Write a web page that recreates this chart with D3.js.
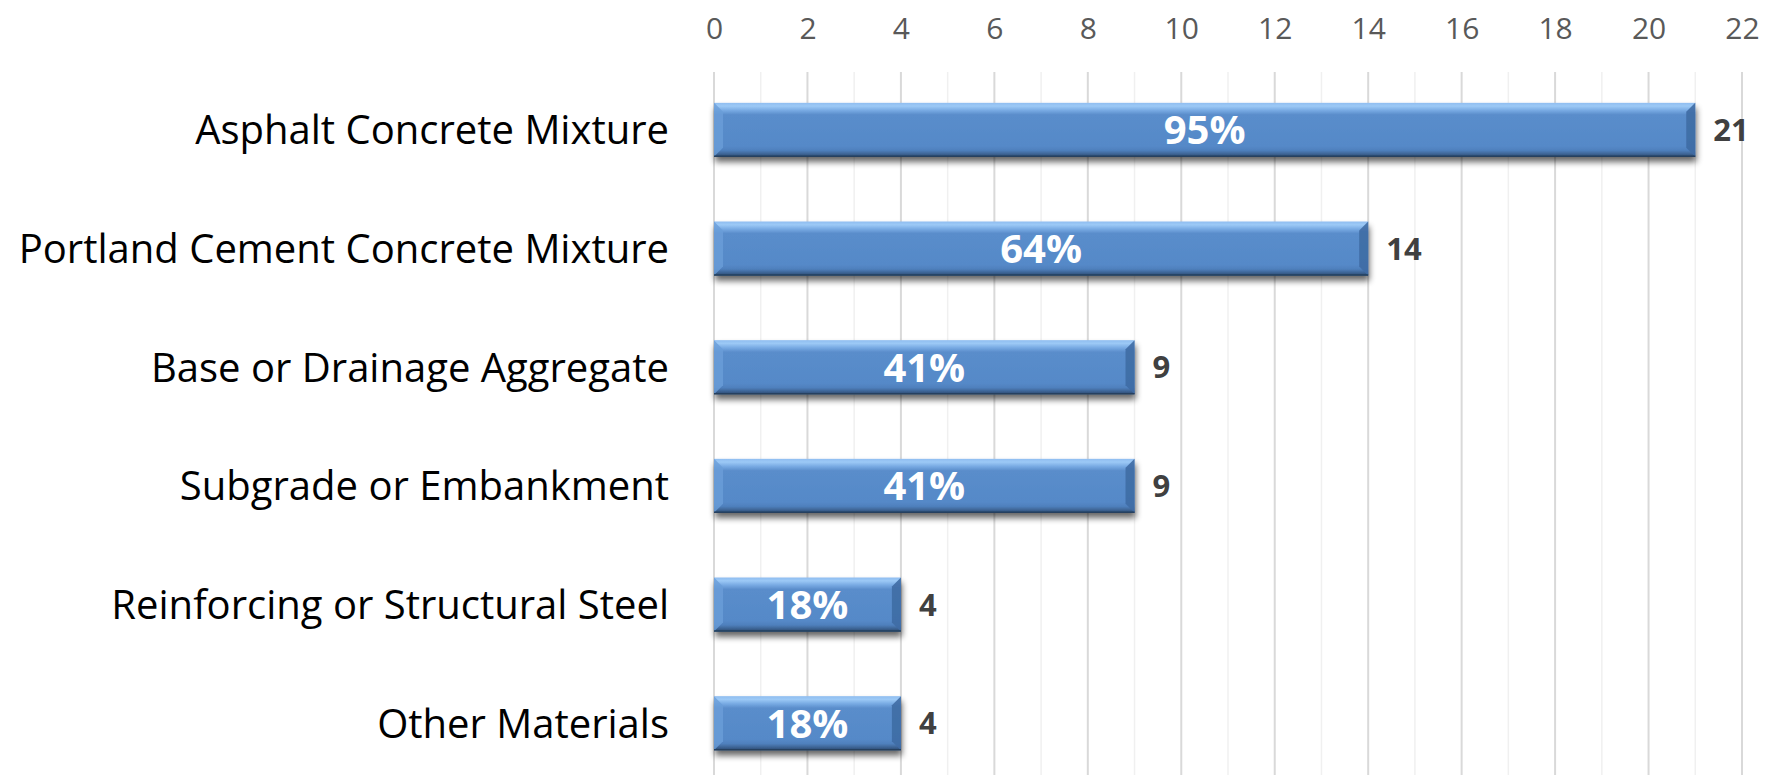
<!DOCTYPE html>
<html>
<head>
<meta charset="utf-8">
<script src="https://cdn.jsdelivr.net/npm/d3@7"></script>
<style>
  html, body { margin: 0; padding: 0; background: #ffffff; }
  svg { display: block; }
</style>
</head>
<body>
<svg id="chart" width="1772" height="775"></svg>
<script>
// Materials reported, count of agencies and share of the 22 respondents
const categories = [
  "Asphalt Concrete Mixture",
  "Portland Cement Concrete Mixture",
  "Base or Drainage Aggregate",
  "Subgrade or Embankment",
  "Reinforcing or Structural Steel",
  "Other Materials"
];
const counts = [21, 14, 9, 9, 4, 4];
const percents = ["95%", "64%", "41%", "41%", "18%", "18%"];
const tickValues = [0, 2, 4, 6, 8, 10, 12, 14, 16, 18, 20, 22];

const svg = d3.select("#chart");
const FONT = "'Open Sans', 'Noto Sans', sans-serif";

const x = d3.scaleLinear().domain([0, 22]).range([714, 1742]);
const y = d3.scaleBand()
  .domain(categories)
  .range([70.5, 782.5])
  .paddingInner(0.545)
  .paddingOuter(0.2725);

const defs = svg.append("defs");

// vertical shading of the bar face
const grad = defs.append("linearGradient")
  .attr("id", "barFace").attr("x1", 0).attr("y1", 0).attr("x2", 0).attr("y2", 1);
[
  [0.00, "#8fbdf0"],
  [0.06, "#9cc9f6"],
  [0.14, "#78aae3"],
  [0.22, "#5a8dcb"],
  [0.80, "#5589c8"],
  [0.88, "#4f80bd"],
  [0.94, "#3f6799"],
  [1.00, "#2c4a70"]
].forEach(([o, c]) => grad.append("stop").attr("offset", o).attr("stop-color", c));

const shadow = defs.append("filter")
  .attr("id", "barShadow").attr("x", "-5%").attr("y", "-30%").attr("width", "110%").attr("height", "170%");
shadow.append("feGaussianBlur").attr("in", "SourceAlpha").attr("stdDeviation", 3).attr("result", "b");
shadow.append("feOffset").attr("in", "b").attr("dx", 1).attr("dy", 5).attr("result", "o");
shadow.append("feComponentTransfer").attr("in", "o").attr("result", "s")
  .append("feFuncA").attr("type", "linear").attr("slope", 0.6);
const merge = shadow.append("feMerge");
merge.append("feMergeNode").attr("in", "s");
merge.append("feMergeNode").attr("in", "SourceGraphic");

// vertical gridlines: even values stronger, odd values faint
const grid = svg.append("g");
grid.selectAll("line")
  .data(d3.range(0, 23))
  .join("line")
  .attr("x1", d => x(d)).attr("x2", d => x(d))
  .attr("y1", 72).attr("y2", 775)
  .attr("stroke", d => d % 2 === 0 ? "#d9d9d9" : "#f0f0f0")
  .attr("stroke-width", d => d % 2 === 0 ? 2 : 1.5);

// top axis labels
const axis = d3.axisTop(x).tickValues(tickValues).tickSize(0).tickPadding(0);
const axisG = svg.append("g").attr("transform", "translate(0,39)").call(axis);
axisG.select(".domain").remove();
axisG.selectAll("text")
  .attr("font-family", FONT)
  .attr("font-size", 30)
  .attr("fill", "#595959")
  .attr("dy", 0);

// category labels
svg.append("g").selectAll("text")
  .data(categories)
  .join("text")
  .attr("x", 669)
  .attr("y", d => y(d) + y.bandwidth() / 2)
  .attr("dy", "0.36em")
  .attr("text-anchor", "end")
  .attr("font-family", FONT)
  .attr("font-size", 40)
  .attr("fill", "#000000")
  .text(d => d);

// bevelled bars
const rows = categories.map((c, i) => ({ c, v: counts[i], p: percents[i] }));
const bev = 9;
const bars = svg.append("g").selectAll("g")
  .data(rows)
  .join("g")
  .attr("filter", "url(#barShadow)");

bars.append("rect")
  .attr("x", x(0))
  .attr("y", d => y(d.c))
  .attr("width", d => x(d.v) - x(0))
  .attr("height", y.bandwidth())
  .attr("fill", "url(#barFace)");

// left bevel face
bars.append("path")
  .attr("d", d => {
    const x0 = x(0), y0 = y(d.c), y1 = y0 + y.bandwidth();
    return `M${x0},${y0}L${x0 + bev},${y0 + bev}L${x0 + bev},${y1 - bev}L${x0},${y1}Z`;
  })
  .attr("fill", "#6a9dd8")
  .attr("opacity", 0.8);

// right bevel face
bars.append("path")
  .attr("d", d => {
    const x1 = x(d.v), y0 = y(d.c), y1 = y0 + y.bandwidth();
    return `M${x1},${y0}L${x1 - bev},${y0 + bev}L${x1 - bev},${y1 - bev}L${x1},${y1}Z`;
  })
  .attr("fill", "#3f6ca4")
  .attr("opacity", 0.9);

// thin dark outline on the lower edge
bars.append("line")
  .attr("x1", x(0))
  .attr("x2", d => x(d.v))
  .attr("y1", d => y(d.c) + y.bandwidth() - 0.5)
  .attr("y2", d => y(d.c) + y.bandwidth() - 0.5)
  .attr("stroke", "#25405f")
  .attr("stroke-width", 1.5);

// share labels inside the bars
svg.append("g").selectAll("text")
  .data(rows)
  .join("text")
  .attr("x", d => (x(0) + x(d.v)) / 2)
  .attr("y", d => y(d.c) + y.bandwidth() / 2)
  .attr("dy", "0.36em")
  .attr("text-anchor", "middle")
  .attr("font-family", FONT)
  .attr("font-weight", 700)
  .attr("font-size", 40)
  .attr("fill", "#ffffff")
  .text(d => d.p);

// count labels after the bars
svg.append("g").selectAll("text")
  .data(rows)
  .join("text")
  .attr("x", d => x(d.v) + 18)
  .attr("y", d => y(d.c) + y.bandwidth() / 2)
  .attr("dy", "0.36em")
  .attr("font-family", FONT)
  .attr("font-weight", 700)
  .attr("font-size", 31)
  .attr("fill", "#404040")
  .text(d => d.v);
</script>
</body>
</html>
